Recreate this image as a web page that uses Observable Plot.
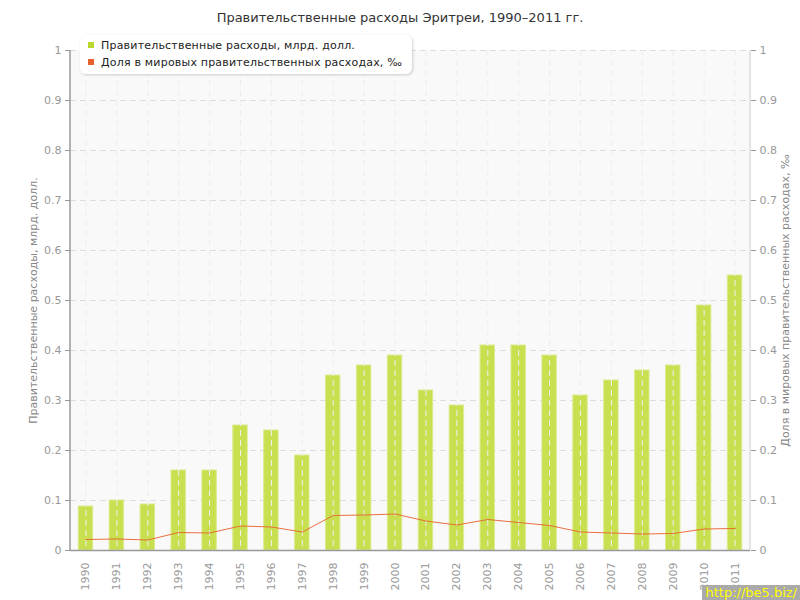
<!DOCTYPE html>
<html><head><meta charset="utf-8">
<script src="https://cdn.jsdelivr.net/npm/d3@7"></script>
<script src="https://cdn.jsdelivr.net/npm/@observablehq/plot@0.6"></script>
<style>
body{margin:0;background:#fff;font-family:"DejaVu Sans",Verdana,sans-serif;}
#wrap{position:relative;width:800px;height:600px;}
#title{position:absolute;top:10px;left:0;width:800px;text-align:center;font-size:13px;color:#333;}
#legend{position:absolute;left:80px;top:35px;padding:2px 10px 3px 8px;background:#fff;border-radius:6px;box-shadow:1px 1px 3px rgba(0,0,0,0.18);font-size:11px;color:#222;line-height:17px;z-index:2;letter-spacing:0.2px;}
#legend span.sw{display:inline-block;width:6px;height:6px;margin-right:7px;vertical-align:1px;}
#wm{position:absolute;right:0;bottom:0;background:#aaa;color:#ff0;font-size:13px;padding:0 3px;}
</style></head><body>
<div id="wrap">
<div id="title">Правительственные расходы Эритреи, 1990–2011 гг.</div>
<div id="legend">
<div><span class="sw" style="background:#b9d82c"></span>Правительственные расходы, млрд. долл.</div>
<div><span class="sw" style="background:#e8612c"></span>Доля в мировых правительственных расходах, ‰</div>
</div>
<div id="chart"></div>
<div id="wm">http://be5.biz/</div>
</div>
<script>
const years = ["1990","1991","1992","1993","1994","1995","1996","1997","1998","1999","2000","2001","2002","2003","2004","2005","2006","2007","2008","2009","2010","2011"];
const spending = [0.088,0.1,0.092,0.16,0.16,0.25,0.24,0.19,0.35,0.37,0.39,0.32,0.29,0.41,0.41,0.39,0.31,0.34,0.36,0.37,0.49,0.55];
const share = [0.022,0.023,0.021,0.036,0.035,0.049,0.047,0.037,0.070,0.071,0.073,0.059,0.051,0.062,0.056,0.050,0.037,0.035,0.033,0.034,0.043,0.044];
const yTicks = [0,0.1,0.2,0.3,0.4,0.5,0.6,0.7,0.8,0.9,1];
const leftLabel = "Правительственные расходы, млрд. долл.";
const rightLabel = "Доля в мировых правительственных расходах, ‰";

const data = years.map((y,i)=>({year:y, spending:spending[i], share:share[i]}));
const fmt = d => d===0 ? "0" : String(+d.toFixed(1));

const chart = Plot.plot({
  width: 800, height: 600,
  marginLeft: 70, marginRight: 50, marginTop: 50, marginBottom: 50,
  style: {fontFamily: '"DejaVu Sans",Verdana,sans-serif', fontSize: "11px", background: "transparent"},
  x: {domain: years, paddingInner: 0.5, paddingOuter: 0.25, align: 0.5, round: false},
  y: {domain: [0,1]},
  marks: [
    Plot.frame({fill: "#f9f9f9", stroke: null}),
    Plot.gridY(yTicks, {stroke: "#ddd", strokeOpacity: 1, strokeDasharray: "6,4"}),
    Plot.barY(data, {x: "year", y: "spending", fill: "#c8e050", stroke: "#d9ec8f", strokeWidth: 1, insetLeft: 0.5, insetRight: 0.5}),
    Plot.gridX(years, {stroke: "#eee", strokeOpacity: 1, strokeDasharray: "6,4"}),
    Plot.line(data, {x: "year", y: "share", stroke: "#e8612c", strokeWidth: 1, strokeOpacity: 0.9}),
    Plot.axisY(yTicks, {anchor: "left", tickFormat: fmt, tickSize: 5, tickPadding: 4, color: "#999", label: null}),
    Plot.axisY(yTicks, {anchor: "right", tickFormat: fmt, tickSize: 5, tickPadding: 4, color: "#999", label: null}),
    Plot.axisX(years, {anchor: "bottom", tickRotate: -90, tickSize: 0, tickPadding: 12, color: "#999", label: null}),
    Plot.ruleY([0], {stroke: "#999", strokeWidth: 1.5}),
    Plot.text([leftLabel], {frameAnchor: "left", textAnchor: "middle", dx: -37, rotate: -90, fill: "#888", fontSize: 11}),
    Plot.text([rightLabel], {frameAnchor: "right", textAnchor: "middle", dx: 35, rotate: -90, fill: "#888", fontSize: 11})
  ]
});
document.getElementById("chart").appendChild(chart);
const svg = d3.select(chart);
svg.append("line").attr("x1",70).attr("x2",70).attr("y1",50).attr("y2",550).attr("stroke","#999").attr("stroke-width",1.5);
svg.append("line").attr("x1",750).attr("x2",750).attr("y1",50).attr("y2",550).attr("stroke","#ddd").attr("stroke-width",1.5);
</script>
</body></html>
